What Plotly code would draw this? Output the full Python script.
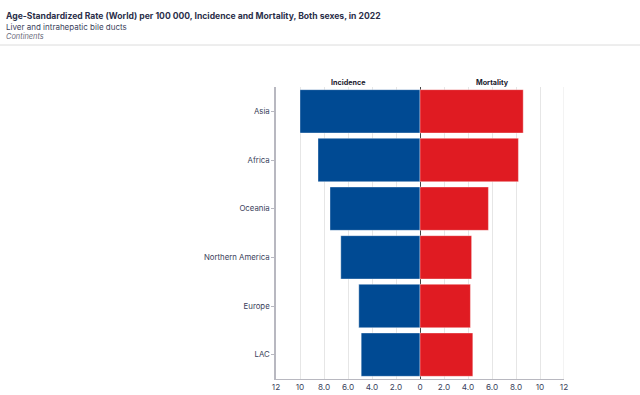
import plotly.graph_objects as go

regions = ["Asia", "Africa", "Oceania", "Northern America", "Europe", "LAC"]
incidence = [10.0, 8.5, 7.5, 6.6, 5.1, 4.9]
mortality = [8.6, 8.2, 5.7, 4.3, 4.2, 4.4]
tick_vals = [-12, -10, -8, -6, -4, -2, 0, 2, 4, 6, 8, 10, 12]
tick_text = ["12", "10", "8.0", "6.0", "4.0", "2.0", "0", "2.0", "4.0", "6.0", "8.0", "10", "12"]

FONT = "Inter, Roboto, sans-serif"
TXT = "#3b3f5c"

fig = go.Figure()
fig.add_trace(go.Bar(
    y=regions, x=[-v for v in incidence], orientation="h", name="Incidence",
    marker=dict(color="#004a93", line=dict(color="rgba(255,255,255,0.6)", width=0.6)),
    hovertemplate="%{y}: %{customdata}<extra>Incidence</extra>", customdata=incidence,
))
fig.add_trace(go.Bar(
    y=regions, x=mortality, orientation="h", name="Mortality",
    marker=dict(color="#e01b22", line=dict(color="rgba(255,255,255,0.6)", width=0.6)),
))

fig.update_layout(
    width=640, height=395,
    margin=dict(l=276, r=76, t=87, b=16),
    barmode="relative", bargap=0.11,
    showlegend=False,
    plot_bgcolor="white", paper_bgcolor="white",
    font=dict(family=FONT, size=8, color=TXT),
)
fig.update_xaxes(
    range=[-12, 12], tickvals=tick_vals, ticktext=tick_text, automargin=False,
    showgrid=True, gridcolor="#e6e6e6", gridwidth=1,
    zeroline=True, zerolinecolor="#444444", zerolinewidth=1.2,
    ticks="",
    showline=True, linecolor="#b8b8c0", linewidth=1,
    tickfont=dict(size=8.2, color=TXT),
)
fig.update_yaxes(
    categoryorder="array", categoryarray=regions[::-1], automargin=False,
    showline=True, linecolor="#b8b8c0", linewidth=1.5,
    ticks="outside", ticklen=3, tickcolor="#b8b8c0",
    tickfont=dict(size=7.8, color=TXT), showgrid=False,
)

# Right border gridline at 12
fig.add_shape(type="line", xref="x", yref="paper", x0=12, x1=12, y0=0, y1=1,
              line=dict(color="#e6e6e6", width=1))

fig.add_annotation(text="<b>Incidence</b>", xref="x", yref="paper", x=-6, y=1.0,
                   yanchor="bottom", yshift=-2, showarrow=False, font=dict(size=7.2, color="#1a1a2e"))
fig.add_annotation(text="<b>Mortality</b>", xref="x", yref="paper", x=6, y=1.0,
                   yanchor="bottom", yshift=-2, showarrow=False, font=dict(size=7.2, color="#1a1a2e"))

fig.add_annotation(text="<b>Age-Standardized Rate (World) per 100 000, Incidence and Mortality, Both sexes, in 2022</b>",
                   xref="paper", yref="paper", x=-272/288, xanchor="left", y=(395-16-16)/292, yanchor="middle",
                   showarrow=False, font=dict(size=8.6, color="#2b2f4a"))
fig.add_annotation(text="Liver and intrahepatic bile ducts",
                   xref="paper", yref="paper", x=-272/288, xanchor="left", y=(395-16-27)/292, yanchor="middle",
                   showarrow=False, font=dict(size=8, color="#3b3f5c"))
fig.add_annotation(text="<i>Continents</i>",
                   xref="paper", yref="paper", x=-272/288, xanchor="left", y=(395-16-37)/292, yanchor="middle",
                   showarrow=False, font=dict(size=7.4, color="#6b6b7b"))
fig.add_shape(type="line", xref="paper", yref="paper", x0=-276/288, x1=(640-276)/288,
              y0=(395-16-45)/292, y1=(395-16-45)/292, line=dict(color="#dcdcdc", width=1))

fig.write_html("out.html", config={"displayModeBar": False},
               post_script="document.body.style.margin='0';document.body.style.overflow='hidden';")
